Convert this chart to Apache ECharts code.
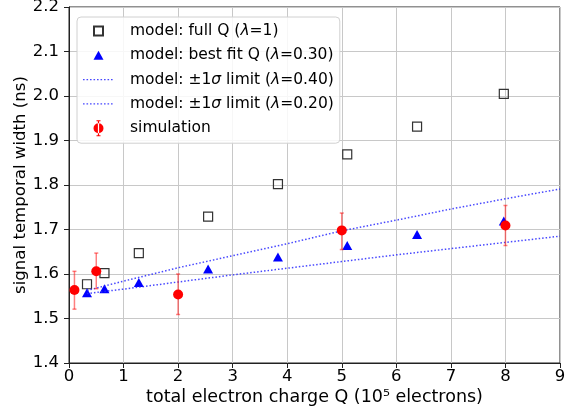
<!DOCTYPE html>
<html>
<head>
<meta charset="utf-8">
<script src="https://cdn.jsdelivr.net/npm/echarts@6/dist/echarts.min.js"></script>
<style>
  html, body { margin: 0; padding: 0; background: #fff; }
  #chart { width: 566px; height: 412px; }
</style>
</head>
<body>
<div id="chart"></div>
<script>
// Signalbredd mot total laddning: modellpunkter, ±1σ-gränser och simulering med felstaplar.
const FULL_X = [0.33, 0.65, 1.28, 2.55, 3.83, 5.10, 6.38, 7.97]
const FULL_Y = [1.577, 1.602, 1.647, 1.729, 1.802, 1.869, 1.931, 2.005]
const FIT_Y = [1.558, 1.567, 1.581, 1.611, 1.638, 1.664, 1.689, 1.719]
const LIM_X = [0.33, 1, 2, 3, 4, 5, 6, 7, 8, 9]
const LIM_HI = [1.563, 1.584, 1.614, 1.641, 1.668, 1.697, 1.721, 1.746, 1.769, 1.791]
const LIM_LO = [1.556, 1.566, 1.582, 1.598, 1.613, 1.628, 1.643, 1.657, 1.671, 1.685]
const SIM_X = [0.1, 0.5, 2, 5, 8]
const SIM_Y = [1.564, 1.606, 1.554, 1.698, 1.709]
const SIM_LO = [1.521, 1.567, 1.509, 1.655, 1.664]
const SIM_HI = [1.606, 1.647, 1.600, 1.737, 1.754]

const LABELS = {
  full: '{n|model: full Q (}{i|λ}{n|=1)}',
  fit: '{n|model: best fit Q (}{i|λ}{n|=0.30)}',
  hi: '{n|model: ±1}{i|σ}{n| limit (}{i|λ}{n|=0.40)}',
  lo: '{n|model: ±1}{i|σ}{n| limit (}{i|λ}{n|=0.20)}',
  sim: '{n|simulation}'
}
const FONT = 'DejaVu Sans'
const LIM_COLOR = 'rgba(40,40,255,0.85)'
const zip = (xs, ys) => xs.map((x, i) => [x, ys[i]])

// legendikoner: M-punkterna i hörnen håller ikonrutans storlek
const BOX = 'path://M0,0M16,16'
let dots = 'path://M0,0M31,16'
for (let x = 0; x < 30; x += 3.5) dots += `M${x},7.3h1.6v1.4h-1.6z`
const LEGEND = [
  { name: 'full', icon: BOX + 'M3.5,3.5h9v9h-9z' },
  { name: 'fit', icon: BOX + 'M8,3.5L13,12.5L3,12.5Z' },
  { name: 'hi', icon: dots, itemStyle: { color: LIM_COLOR } },
  { name: 'lo', icon: dots, itemStyle: { color: LIM_COLOR } },
  { name: 'sim', icon: BOX + 'M3,8a5,5 0 1,0 10,0a5,5 0 1,0 -10,0zM7.4,0h1.2v16h-1.2zM6,0h4v1h-4zM6,15h4v1h-4z' }
]

const chart = echarts.init(document.getElementById('chart'))
const axisCommon = {
  axisLine: { show: true, lineStyle: { color: '#222', width: 1 } },
  axisTick: { show: true, inside: false, length: 5, lineStyle: { color: '#222' } },
  splitLine: { show: true, lineStyle: { color: '#c8c8c8', width: 1 } },
  nameLocation: 'middle',
  nameMoveOverlap: false
}
chart.setOption({
  animation: false,
  textStyle: { fontFamily: FONT },
  grid: { left: 69, right: 6, top: 7, bottom: 49, outerBoundsMode: 'none', containLabel: false,
    show: true, borderColor: '#222', borderWidth: 1 },
  legend: {
    data: LEGEND,
    orient: 'vertical', left: 77, top: 17,
    itemWidth: 31, itemHeight: 16, itemGap: 6.3,
    padding: [5, 6, 6, 6],
    backgroundColor: 'rgba(255,255,255,0.85)', borderColor: '#d0d0d0', borderWidth: 1, borderRadius: 4,
    formatter: n => LABELS[n],
    textStyle: {
      padding: [0, 0, 0, 11], lineHeight: 18,
      rich: {
        n: { fontFamily: FONT, fontSize: 15.5, color: '#000' },
        i: { fontFamily: FONT, fontSize: 15.5, fontStyle: 'italic', color: '#000' }
      }
    }
  },
  xAxis: Object.assign({}, axisCommon, {
    type: 'value', min: 0, max: 9, interval: 1,
    name: 'total electron charge Q (10⁵ electrons)', nameGap: 25,
    nameTextStyle: { fontFamily: FONT, fontSize: 17.5, color: '#000' },
    axisLabel: { fontFamily: FONT, fontSize: 16.5, color: '#000', margin: 5 }
  }),
  yAxis: Object.assign({}, axisCommon, {
    type: 'value', min: 1.4, max: 2.2, interval: 0.1,
    name: 'signal temporal width (ns)', nameGap: 40,
    nameTextStyle: { fontFamily: FONT, fontSize: 16.6, color: '#000' },
    axisLabel: { fontFamily: FONT, fontSize: 16.5, color: '#000', margin: 10, formatter: v => v.toFixed(1) }
  }),
  series: [
    { name: 'full', type: 'scatter', symbol: 'rect', symbolSize: 9, z: 3,
      itemStyle: { color: 'rgba(255,255,255,0)', borderColor: '#333', borderWidth: 1.2, opacity: 1 },
      data: zip(FULL_X, FULL_Y) },
    { name: 'fit', type: 'scatter', symbol: 'triangle', symbolSize: [10, 9], z: 3,
      itemStyle: { color: '#0000ff', opacity: 1 }, data: zip(FULL_X, FIT_Y) },
    { name: 'hi', type: 'line', showSymbol: false, z: 4,
      lineStyle: { color: LIM_COLOR, width: 1.5, type: [1.5, 2] },
      itemStyle: { color: LIM_COLOR }, data: zip(LIM_X, LIM_HI) },
    { name: 'lo', type: 'line', showSymbol: false, z: 4,
      lineStyle: { color: LIM_COLOR, width: 1.5, type: [1.5, 2] },
      itemStyle: { color: LIM_COLOR }, data: zip(LIM_X, LIM_LO) },
    { name: 'simErr', type: 'custom', z: 5,
      renderItem: (params, api) => {
        const top = api.coord([api.value(0), api.value(2)])
        const bot = api.coord([api.value(0), api.value(1)])
        const style = { stroke: 'rgba(255,0,0,0.5)', lineWidth: 1.5 }
        const cap = 2
        return { type: 'group', children: [
          { type: 'line', shape: { x1: top[0], y1: top[1], x2: bot[0], y2: bot[1] }, style },
          { type: 'line', shape: { x1: top[0] - cap, y1: top[1], x2: top[0] + cap, y2: top[1] }, style },
          { type: 'line', shape: { x1: bot[0] - cap, y1: bot[1], x2: bot[0] + cap, y2: bot[1] }, style }
        ] }
      },
      data: SIM_X.map((x, i) => [x, SIM_LO[i], SIM_HI[i]]) },
    { name: 'sim', type: 'scatter', symbol: 'circle', symbolSize: 10, z: 6,
      itemStyle: { color: '#ff0000', opacity: 1 }, data: zip(SIM_X, SIM_Y) }
  ]
})
</script>
</body>
</html>
